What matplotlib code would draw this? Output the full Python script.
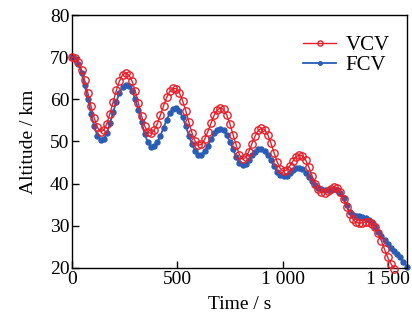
import matplotlib
matplotlib.use("Agg")
import matplotlib.pyplot as plt
from matplotlib.ticker import FuncFormatter

plt.rcParams['font.family'] = ['Liberation Serif', 'DejaVu Serif']

t_vcv = list(range(0, 1531, 15))
h_vcv = [70.0, 69.8, 68.9, 67.0, 64.5, 61.5, 58.4, 55.6, 53.4, 52.3, 52.7, 54.2, 56.6, 59.4, 62.1, 64.3,
         65.8, 66.3, 65.8, 64.3, 62.0, 59.1, 56.1, 53.6, 52.2, 51.9, 52.6, 54.2, 56.3, 58.5, 60.5, 61.9,
         62.6, 62.5, 61.5, 59.7, 57.3, 54.6, 52.0, 50.0, 49.1, 49.3, 50.5, 52.3, 54.3, 56.2, 57.5, 58.0,
         57.6, 56.3, 54.2, 51.6, 49.1, 46.9, 45.8, 46.2, 47.6, 49.5, 51.3, 52.6, 53.1, 52.8, 51.6, 49.6,
         47.3, 45.1, 43.5, 42.9, 43.2, 44.2, 45.4, 46.4, 46.8, 46.6, 45.6, 43.9, 41.9, 40.0, 38.6, 37.9,
         37.8, 38.2, 38.8, 39.2, 39.0, 38.0, 36.3, 34.5, 32.8, 31.5, 30.8, 30.6, 30.7, 30.9, 30.8, 30.4,
         29.6, 28.2, 26.4, 24.4, 22.5, 21.0, 19.8]

t_fcv = list(range(0, 1591, 15))
h_fcv = [70.0, 69.6, 68.4, 66.2, 63.3, 60.0, 56.6, 53.6, 51.4, 50.3, 50.5, 52.0, 54.3, 56.9, 59.4, 61.5,
         62.9, 63.5, 63.2, 62.0, 60.0, 57.5, 54.6, 51.8, 49.8, 48.7, 48.8, 49.8, 51.4, 53.3, 55.2, 56.8,
         57.8, 57.9, 57.2, 55.7, 53.7, 51.4, 49.3, 47.7, 46.9, 46.9, 47.7, 49.0, 50.5, 51.9, 52.8, 53.0,
         52.6, 51.5, 49.9, 48.1, 46.3, 45.0, 44.4, 44.7, 45.6, 46.7, 47.6, 48.1, 48.2, 47.7, 46.8, 45.5,
         44.1, 42.8, 42.0, 41.7, 41.9, 42.5, 43.2, 43.7, 43.8, 43.4, 42.6, 41.6, 40.6, 39.7, 39.0, 38.6,
         38.4, 38.4, 38.5, 38.6, 38.5, 37.8, 36.5, 34.8, 33.3, 32.6, 32.3, 32.2, 32.0, 31.8, 31.4, 30.8,
         29.8, 28.6, 27.5, 26.5, 25.6, 24.8, 24.0, 23.3, 22.6, 21.5, 20.2]

x_ticks = [0, 500, 1000, 1500]
y_ticks = [20, 30, 40, 50, 60, 70, 80]

fig = plt.figure(figsize=(4.12, 3.2), dpi=100)
ax = fig.add_axes([0.175, 0.163, 0.812, 0.79])

red = '#e8202a'
blue = '#2a5db5'
ax.plot(t_vcv, h_vcv, color=red, lw=1.0, marker='o', ms=5.3, mfc='none', mec=red, mew=1.0,
        label='VCV', clip_on=False, zorder=3)
ax.plot(t_fcv, h_fcv, color=blue, lw=1.3, marker='o', ms=3.6, mfc=blue, mec=blue,
        label='FCV', clip_on=False, zorder=2)

ax.set_xlim(0, 1590)
ax.set_ylim(20, 80)
ax.set_xticks(x_ticks)
ax.set_yticks(y_ticks)
ax.xaxis.set_major_formatter(FuncFormatter(lambda v, p: f"{int(v):,}".replace(',', ' ')))
ax.tick_params(direction='in', labelsize=14, length=5, width=1, pad=2)
for s in ax.spines.values():
    s.set_linewidth(1.0)
ax.set_xlabel('Time / s', fontsize=14, labelpad=6)
ax.set_ylabel('Altitude / km', fontsize=14, labelpad=9)

ax.legend(loc='upper right', bbox_to_anchor=(0.99, 0.972), fontsize=15, frameon=False,
          handlelength=1.6, handletextpad=0.45, borderaxespad=0.25, labelspacing=0.0,
          markerscale=0.7)

fig.savefig('out.png', dpi=100)
